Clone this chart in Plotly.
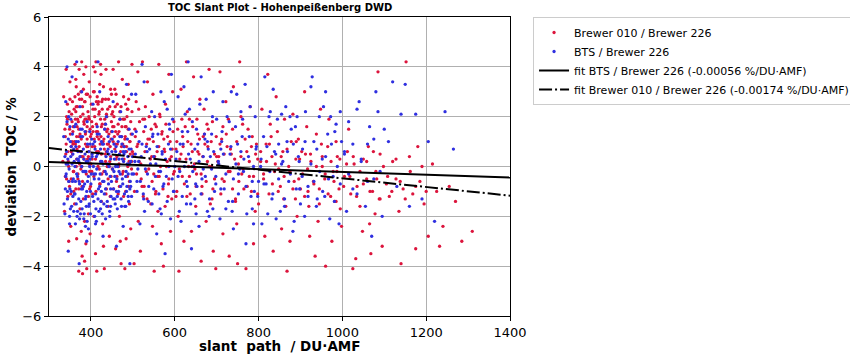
import plotly.graph_objects as go

# ---------------- data ----------------
# Brewer 010 / Brewer 226 : spread points (incl. outliers)
red_pts = [
    (335,2.8),(338,1.5),(340,0.5),(342,-0.5),(345,-1.2),(348,2.2),(350,3.4),(352,-2.4),(355,1.0),(358,-0.2),
    (333,0.2),(337,-1.8),(344,1.9),(347,-3.0),(353,0.8),(356,2.6),(359,-1.0),(341,3.9),(349,-0.8),(357,1.4),
    (362,4.1),(365,3.2),(368,2.4),(370,1.8),(372,1.2),(375,0.6),(378,0.0),(380,-0.6),(382,-1.3),(385,-2.2),
    (388,-3.1),(390,-4.1),(392,2.9),(395,2.0),(398,1.5),(363,0.9),(366,0.3),(369,-0.3),(371,-0.9),(374,-1.7),
    (377,-2.6),(379,-3.6),(383,3.7),(386,2.6),(389,1.9),(391,1.1),(394,0.4),(397,-0.2),(399,-0.8),(364,2.2),
    (367,1.6),(373,2.7),(376,3.0),(381,2.1),(384,1.7),(387,1.3),(393,0.8),(396,0.1),(361,-1.5),(366,-2.9),
    (371,-4.2),(380,-4.3),(385,-3.8),(394,-1.9),(398,-2.7),(364,3.5),(372,3.9),(378,4.2),(388,4.0),(396,3.4),
    (402,1.8),(405,2.3),(408,3.0),(410,3.8),(412,4.2),(415,1.2),(418,0.6),(420,-0.1),(422,-0.7),(425,-1.4),
    (428,-2.3),(430,-3.2),(432,-4.1),(435,2.7),(438,2.0),(440,1.5),(442,0.9),(445,0.2),(448,-0.4),(404,-1.1),
    (407,-2.0),(411,-3.5),(414,-4.2),(417,2.5),(421,3.3),(424,3.7),(427,1.7),(431,1.1),(434,0.5),(437,-0.9),
    (441,-1.6),(444,-2.8),(447,3.1),(403,0.3),(409,0.8),(413,1.4),(419,2.1),(426,2.6),(433,1.9),(439,0.0),
    (446,-1.2),(449,1.4),(406,4.0),(423,4.1),(436,3.9),
    (452,2.2),(455,1.6),(458,0.9),(460,0.3),(462,-0.4),(465,-1.1),(468,-2.0),(470,-3.0),(472,-3.9),(475,3.5),
    (478,2.8),(480,1.9),(482,1.2),(485,0.6),(488,0.0),(490,-0.8),(492,-1.5),(495,-2.5),(498,4.1),(453,3.9),
    (457,3.1),(463,2.5),(467,1.4),(473,0.8),(477,-0.2),(483,-1.0),(487,2.3),(493,1.0),(497,0.2),(459,-3.3),
    (481,-4.1),(489,3.3),(466,4.2),(484,-2.9),
    (505,1.5),(510,0.8),(515,0.2),(520,-0.5),(525,-1.2),(530,2.4),(535,3.4),(540,1.1),(545,0.4),(550,-0.3),
    (555,-1.0),(560,-1.8),(565,2.0),(570,1.4),(575,0.7),(580,0.0),(585,-0.7),(590,-2.6),(595,3.0),(508,2.6),
    (513,-2.2),(518,-3.4),(523,4.2),(528,1.9),(533,0.9),(538,-0.1),(543,-1.5),(548,2.9),(553,1.7),(558,0.6),
    (563,-0.4),(568,-3.1),(573,-4.0),(578,2.5),(583,1.2),(588,0.3),(593,-1.3),(598,1.8),(503,-3.9),(512,3.8),
    (527,-0.8),(547,-2.4),(562,4.1),(577,-1.6),(597,-0.3),(551,-4.2),(586,3.7),
    (605,1.0),(612,0.3),(618,-0.4),(625,1.6),(630,2.2),(637,-1.1),(642,0.6),(648,-0.1),(655,1.3),(660,2.7),
    (665,-0.8),(672,0.9),(678,0.2),(685,-1.5),(690,1.8),(695,-0.5),(608,-2.0),(615,3.1),(622,-3.0),(628,4.2),
    (635,1.9),(640,-2.6),(645,3.6),(652,-0.3),(658,0.5),(663,-3.8),(668,1.2),(675,-2.2),(682,3.9),(688,0.0),
    (698,-4.1),(603,-1.2),(620,0.8),(633,0.0),(650,-1.6),(670,2.3),(692,-3.4),(610,-4.2),(680,1.5),(700,0.4),
    (705,0.4),(712,1.1),(718,-0.6),(725,0.8),(732,-0.2),(738,1.5),(745,-1.3),(752,0.1),(758,2.0),(765,-0.9),
    (772,0.6),(778,-0.4),(785,1.2),(792,-1.8),(798,0.3),(708,3.8),(715,-2.7),(722,2.6),(730,-3.6),(740,3.2),
    (748,-2.3),(755,4.2),(762,1.7),(770,-4.1),(780,2.4),(788,-3.1),(795,0.9),(710,-1.1),(735,0.5),(760,-0.3),
    (783,-1.0),(728,1.9),(750,-3.9),
    (805,0.2),(812,-0.5),(818,0.9),(825,-1.1),(832,0.4),(838,-0.2),(845,1.4),(852,-0.8),(858,0.6),(865,-1.6),
    (872,0.0),(878,1.0),(885,-0.6),(892,-2.0),(898,0.3),(808,2.3),(815,-2.8),(822,3.7),(828,1.7),(835,-3.4),
    (842,2.8),(848,-0.1),(855,-2.5),(862,1.9),(868,-4.2),(875,-3.0),(882,2.1),(888,-1.3),(895,1.1),(900,-0.9),
    (905,-0.3),(912,0.5),(918,-1.0),(925,0.2),(932,-0.7),(938,1.3),(945,-1.5),(952,0.0),(958,-0.5),(965,0.8),
    (972,-1.2),(978,-0.2),(985,1.0),(992,-0.9),(998,-2.4),(910,3.0),(922,-2.8),(935,-3.6),(948,2.3),(960,-4.0),
    (975,-3.0),(988,0.4),(995,-1.7),(915,1.6),(942,-2.2),(968,1.9),(982,-1.4),
    (1005,-0.4),(1012,0.6),(1020,-1.1),(1028,0.1),(1035,-0.8),(1042,-1.6),(1050,0.3),(1058,-0.5),(1065,-2.3),
    (1072,-1.0),(1080,-0.2),(1088,-1.3),(1095,-3.2),(1015,1.5),(1032,-3.7),(1048,-2.6),(1062,0.8),(1078,-1.9),
    (1090,0.5),(1025,-4.1),(1068,-3.5),(1085,3.8),
    (1105,-0.7),(1112,-1.2),(1120,0.2),(1128,-0.5),(1135,-1.8),(1145,-0.9),(1152,4.2),(1160,0.4),(1168,-1.1),
    (1175,-3.3),(1185,-0.6),(1195,-1.5),(1205,-2.8),(1215,0.1),(1225,-1.0),(1240,-2.4),(1255,-0.8),(1270,-1.4),
    (1285,-3.0),(1310,-2.6),(1140,-3.9),(1180,0.8),(1232,-3.2),
]
# Brewer 010 / Brewer 226 : dense core
red_core = [
    (341,0.9),(343,1.7),(346,0.2),(348,-0.6),(351,1.3),(354,2.1),(356,0.5),(359,-0.2),(361,1.0),(363,1.9),
    (365,2.4),(367,0.7),(369,-0.5),(371,1.5),(373,0.1),(375,2.0),(377,1.1),(379,-0.8),(381,0.4),(383,1.8),
    (385,2.6),(387,0.9),(389,-0.3),(391,1.6),(393,2.2),(395,0.6),(397,-0.9),(399,1.2),(401,2.5),(403,0.8),
    (405,1.4),(407,-0.4),(409,2.0),(411,0.3),(413,1.7),(415,2.8),(417,0.0),(419,1.1),(421,-0.7),(423,1.9),
    (425,0.5),(427,2.3),(429,1.0),(431,-0.2),(433,1.5),(435,0.2),(437,2.1),(439,0.9),(441,-0.5),(443,1.3),
    (445,2.4),(447,0.4),(449,1.8),(451,-0.1),(453,1.0),(455,2.0),(457,0.7),(459,1.4),(461,-0.6),(463,0.9),
    (465,1.7),(467,0.1),(469,2.2),(471,0.6),(473,1.2),(475,-0.3),(477,1.9),(479,0.3),(481,1.1),(483,2.5),
    (485,0.8),(487,-0.4),(489,1.5),(491,0.2),(493,1.0),(495,1.8),(497,-0.1),(499,0.6),
    (344,2.5),(352,-1.1),(358,1.6),(364,-0.9),(370,2.9),(376,-0.1),(382,3.1),(388,1.4),(394,-1.2),(400,0.1),
    (406,3.0),(412,-1.0),(418,2.6),(424,1.2),(430,3.2),(436,-1.1),(442,2.7),(448,1.1),(454,-0.9),(460,2.9),
    (466,0.0),(472,2.4),(478,-1.2),(484,1.6),(490,2.7),(496,1.3),
    (347,0.0),(353,0.6),(360,2.3),(366,1.2),(372,0.8),(378,2.7),(384,0.3),(390,0.8),(396,1.9),(402,-0.2),
    (408,1.1),(414,0.6),(420,2.2),(426,-0.3),(432,0.7),(438,1.4),(444,0.0),(450,2.1),(456,1.2),(462,0.4),
    (468,-0.8),(474,1.6),(480,0.8),(486,2.0),(492,-0.6),(498,2.2),
    (502,0.5),(506,1.2),(509,-0.3),(512,0.9),(516,1.8),(519,0.1),(522,-0.8),(526,1.4),(529,0.6),(532,-0.2),
    (536,1.1),(539,2.0),(542,0.3),(546,-0.6),(549,1.0),(552,0.4),(556,1.6),(559,-0.4),(562,0.8),(566,0.0),
    (569,1.3),(572,-0.9),(576,0.6),(579,1.7),(582,0.2),(586,-0.5),(589,1.0),(592,0.4),(596,1.4),(599,-0.2),
    (603,0.7),(607,1.5),(611,-0.1),(615,0.5),(619,1.2),(623,-0.7),(627,0.3),(631,1.0),(635,-0.4),(639,0.9),
    (643,1.6),(647,0.1),(651,-0.8),(655,0.6),(659,1.1),(663,-0.3),(667,0.4),(671,1.3),(675,-0.6),(679,0.8),
    (683,0.0),(687,1.0),(691,-0.9),(695,0.5),(699,1.2),
    (504,-1.0),(514,2.3),(524,1.9),(534,-1.3),(544,1.5),(554,-1.1),(564,2.1),(574,1.1),(584,-1.2),(594,0.7),
    (605,-1.0),(617,1.9),(629,-1.2),(641,0.0),(653,1.9),(665,-1.1),(677,1.7),(689,-1.3),
    (703,0.2),(708,0.9),(713,-0.5),(718,0.5),(723,1.3),(728,-0.2),(733,0.7),(738,-0.9),(743,0.3),(748,1.0),
    (753,-0.6),(758,0.4),(763,-0.1),(768,1.1),(773,-0.8),(778,0.2),(783,0.8),(788,-0.4),(793,0.5),(798,-1.1),
    (805,0.6),(812,-0.3),(819,0.2),(826,0.9),(833,-0.7),(840,0.1),(847,-1.0),(854,0.4),(861,-0.4),(868,0.7),
    (875,-0.2),(882,-0.9),(889,0.3),(896,-0.5),(903,0.6),(910,-1.2),(917,-0.1),(924,0.5),(931,-0.6),(938,0.0),
    (945,-0.9),(952,0.4),(959,-0.3),(966,-1.1),(973,0.2),(980,-0.6),(987,-0.2),(994,0.3),
    (715,1.6),(745,-1.4),(775,1.5),(800,-1.5),(830,1.2),(860,-1.3),(890,1.0),(920,-1.6),(950,0.9),(985,-1.4),
    (1003,-0.8),(1010,0.1),(1018,-0.4),(1026,0.4),(1034,-1.2),(1042,-0.2),(1050,-0.7),(1058,0.2),(1066,-1.0),
    (1074,0.6),(1082,-0.5),(1090,-1.3),(1098,0.0),(1108,-0.4),(1118,-1.0),(1128,0.3),(1138,-0.6),(1150,-1.3),
    (1162,-0.2),(1175,-0.8),(1190,0.0),(1200,-1.0),
    # extra density near the left edge
    (339,1.2),(342,2.0),(345,0.6),(349,1.5),(350,2.7),(355,1.8),(357,0.9),(362,2.8),(368,1.9),(374,1.3),
    (380,2.4),(386,1.9),(392,0.3),(398,2.8),(404,1.6),(410,2.3),(416,1.4),(422,0.9),(428,2.7),(434,1.7),
    (440,2.3),(446,0.8),(452,1.6),(458,2.4),(464,1.3),(470,1.9),(476,0.9),(482,1.6),(488,2.3),(494,0.5),
    (339,-0.4),(353,-0.5),(365,0.0),(377,0.4),(389,2.9),(401,1.3),(413,2.6),(425,1.6),(437,0.6),(449,2.9),
]

# BTS / Brewer 226 : spread points (incl. outliers)
blue_pts = [
    (335,1.2),(338,0.4),(341,-0.3),(344,-1.0),(347,2.0),(350,1.6),(353,0.8),(356,-0.6),(359,-1.8),(362,0.0),
    (365,1.0),(368,-0.4),(371,-1.3),(374,2.4),(377,0.6),(380,-0.9),(383,-2.1),(386,1.4),(389,0.2),(392,-0.6),
    (395,-1.6),(398,0.9),(336,-1.5),(340,2.6),(345,0.1),(349,-2.3),(352,1.9),(357,0.5),(361,-1.1),(364,1.7),
    (367,-2.0),(370,0.3),(373,-0.7),(376,1.2),(379,-1.7),(382,0.7),(385,-0.2),(388,-1.2),(391,1.8),(394,-2.5),
    (397,0.0),(343,4.0),(355,3.6),(366,4.2),(378,3.0),(390,-3.0),(346,-3.4),(372,-3.9),
    (403,0.5),(407,-0.3),(411,-1.1),(415,1.3),(419,-1.8),(423,0.2),(427,0.9),(431,-0.6),(435,1.7),(439,-1.4),
    (443,0.0),(447,-0.9),(451,1.1),(455,-0.2),(459,0.6),(463,-1.2),(467,0.3),(471,2.2),(475,-0.5),(479,0.8),
    (483,-1.6),(487,0.1),(491,1.5),(495,-0.8),(499,0.4),(405,2.5),(413,-2.2),(421,3.0),(429,-2.8),(437,2.0),
    (445,-2.0),(453,2.6),(461,-3.2),(469,1.9),(477,-2.4),(485,3.3),(493,-3.9),(409,1.0),(425,-1.0),(441,0.7),
    (457,-1.3),(473,1.2),(489,-0.3),(497,2.9),(417,4.2),
    (505,0.2),(510,-0.6),(515,1.0),(520,0.4),(525,-1.1),(530,1.6),(535,-0.3),(540,0.7),(545,2.2),(550,-0.9),
    (555,0.1),(560,1.3),(565,-1.7),(570,0.5),(575,2.6),(580,-0.4),(585,0.9),(590,-2.1),(595,1.9),(600,0.0),
    (507,2.9),(517,-2.3),(527,3.4),(537,-1.4),(547,1.2),(557,-2.7),(567,3.0),(577,-3.5),(587,1.7),(597,-1.0),
    (512,-0.1),(532,0.8),(552,2.0),(572,-0.8),(592,3.7),(522,4.1),(562,-0.2),(582,2.3),
    (605,0.6),(612,-0.2),(618,1.4),(625,2.1),(630,-0.8),(637,0.3),(642,1.8),(648,-1.3),(655,0.9),(660,2.5),
    (665,-0.5),(672,1.1),(678,-1.8),(685,0.4),(690,2.0),(695,-1.0),(608,2.8),(615,-2.2),(622,3.2),(628,-1.5),
    (635,2.3),(640,-3.3),(645,0.0),(652,1.5),(658,-2.4),(663,3.6),(668,-0.1),(675,2.7),(682,-2.0),(688,1.3),
    (698,-0.4),(620,0.9),(650,-0.7),(680,0.7),(700,1.9),(632,4.2),(692,3.0),
    (705,0.1),(712,1.0),(718,-0.9),(725,2.0),(732,0.5),(738,-1.4),(745,1.6),(752,-0.3),(758,2.2),(765,0.3),
    (772,-1.9),(778,1.2),(785,-0.6),(792,2.0),(798,-1.2),(708,-2.1),(715,2.6),(722,-1.7),(730,1.8),(740,-2.5),
    (748,2.9),(755,-0.1),(762,1.9),(770,-3.1),(780,2.4),(788,-2.3),(795,0.8),(735,3.0),(768,3.3),(790,-1.0),
    (710,0.7),(750,0.9),
    (805,0.0),(812,1.2),(818,-0.7),(825,2.0),(832,-1.3),(838,0.6),(845,1.9),(852,-1.8),(858,0.2),(865,2.4),
    (872,-0.6),(878,1.5),(885,-2.2),(892,2.0),(898,-0.9),(808,-2.3),(815,3.6),(822,-1.9),(828,2.2),(835,3.1),
    (842,-2.1),(848,0.9),(855,2.1),(862,-1.6),(868,1.0),(875,2.0),(882,-2.6),(888,1.6),(895,0.4),(900,-1.5),
    (905,0.7),(912,2.2),(918,-0.8),(925,3.2),(932,1.0),(938,-1.6),(945,2.0),(952,0.3),(958,-1.2),(965,1.3),
    (972,2.0),(978,-0.4),(985,1.7),(992,-2.3),(998,1.0),(910,-2.0),(928,3.6),(940,-1.3),(955,2.4),(970,-2.1),
    (982,1.4),(995,2.2),(960,3.0),
    (1005,0.5),(1015,1.8),(1025,-0.9),(1035,2.3),(1045,0.2),(1055,-1.6),(1065,1.6),(1075,-0.5),(1085,2.2),
    (1095,-2.0),(1110,1.0),(1120,3.4),(1130,-0.8),(1140,2.1),(1150,3.3),(1160,-1.6),(1175,2.1),(1190,-1.3),
    (1205,1.0),(1220,-2.2),(1245,2.2),(1265,0.7),(1010,-1.8),(1040,2.6),(1070,-2.8),(1100,1.5),(1080,3.0),
    (1060,0.9),
]
# BTS / Brewer 226 : dense core
blue_core = [
    (340,-0.4),(342,0.6),(344,-1.3),(346,1.1),(348,-0.1),(350,-0.9),(352,0.4),(354,-1.6),(356,1.3),(358,-0.5),
    (360,0.2),(362,-1.1),(364,0.8),(366,-0.3),(368,-1.8),(370,1.0),(372,-0.6),(374,0.4),(376,-1.4),(378,0.0),
    (380,1.2),(382,-0.8),(384,-1.9),(386,0.5),(388,-0.2),(390,-1.0),(392,0.9),(394,-0.4),(396,-1.5),(398,0.3),
    (400,-0.7),(402,1.1),(404,-1.2),(406,0.0),(408,-0.5),(410,0.7),(412,-1.7),(414,-0.1),(416,0.5),(418,-0.9),
    (420,1.3),(422,-0.3),(424,-1.4),(426,0.2),(428,-0.6),(430,0.9),(432,-1.1),(434,-0.2),(436,0.4),(438,-1.6),
    (440,0.1),(442,-0.7),(444,1.0),(446,-0.4),(448,-1.2),(450,0.6),(452,-0.1),(454,-0.9),(456,0.3),(458,-1.5),
    (460,0.8),(462,-0.5),(464,0.0),(466,-1.0),(468,0.5),(470,-0.3),(472,-1.3),(474,0.9),(476,-0.7),(478,0.2),
    (480,-1.1),(482,0.6),(484,-0.2),(486,-0.8),(488,0.4),(490,-1.4),(492,0.1),(494,-0.6),(496,0.7),(498,-0.3),
    (343,1.8),(349,-2.0),(355,0.1),(361,1.6),(367,0.3),(373,-2.1),(379,1.5),(385,-0.7),(391,-2.2),(397,1.4),
    (403,0.4),(409,-2.0),(415,1.6),(421,-0.8),(427,-1.9),(433,1.5),(439,0.6),(445,-1.8),(451,1.4),(457,-0.4),
    (463,-1.7),(469,1.2),(475,0.3),(481,-1.6),(487,1.1),(493,-0.9),(499,1.3),
    (345,0.3),(351,1.0),(357,-1.2),(363,-0.6),(369,0.6),(375,1.5),(381,-0.2),(387,-1.3),(393,0.2),(399,-1.0),
    (405,0.9),(411,-0.3),(417,-1.3),(423,0.7),(429,0.1),(435,-0.9),(441,1.2),(447,0.3),(453,-1.3),(459,0.0),
    (465,1.0),(471,-0.8),(477,0.6),(483,-0.4),(489,-1.2),(495,0.2),
    (502,-0.3),(506,0.5),(510,-1.0),(514,0.2),(518,-0.6),(522,0.9),(526,-1.3),(530,-0.1),(534,0.6),(538,-0.8),
    (542,0.1),(546,-1.5),(550,0.4),(554,-0.4),(558,0.8),(562,-1.1),(566,-0.2),(570,0.6),(574,-0.7),(578,0.3),
    (582,-1.4),(586,0.0),(590,0.7),(594,-0.5),(598,-1.0),(603,0.3),(608,-0.4),(613,0.9),(618,-1.2),(623,0.0),
    (628,-0.6),(633,0.5),(638,-1.5),(643,-0.2),(648,0.7),(653,-0.8),(658,0.2),(663,-1.1),(668,0.4),(673,-0.4),
    (678,1.0),(683,-1.3),(688,-0.1),(693,0.6),(698,-0.7),(704,0.2),(710,-0.9),(716,0.5),(722,-0.3),(728,-1.4),
    (734,0.8),(740,-0.5),(746,0.1),(752,-1.1),(758,0.6),(764,-0.2),(770,-0.8),(776,0.4),(782,-1.2),(788,0.0),
    (794,0.7),(800,-0.6),
    (508,1.4),(528,-1.8),(548,1.3),(568,-1.9),(588,1.5),(611,-1.8),(631,1.4),(651,-1.9),(671,1.3),(691,-1.7),
    (713,1.4),(737,-1.8),(761,1.2),(785,-1.7),
    (806,0.3),(813,-0.7),(820,0.8),(827,-0.2),(834,-1.1),(841,0.5),(848,-0.5),(855,0.1),(862,-1.3),(869,0.6),
    (876,-0.3),(883,0.9),(890,-0.9),(897,0.2),(904,-0.4),(911,1.0),(918,-1.2),(925,0.1),(932,-0.6),(939,0.7),
    (946,-0.2),(953,-1.0),(960,0.4),(967,-0.5),(974,0.9),(981,-1.4),(988,0.0),(995,-0.7),(1005,0.6),(1015,-0.3),
    (1025,0.9),(1035,-1.1),(1045,0.3),(1060,-0.6),(1075,1.1),(1090,-0.2),
    # extra density near the left edge
    (339,-0.9),(341,0.1),(347,-0.6),(353,-1.0),(359,0.7),(365,-1.5),(371,0.2),(377,-0.9),(383,0.3),(389,-1.6),
    (395,0.6),(401,-0.3),(407,-1.4),(413,0.4),(419,-0.5),(425,1.0),(431,-1.5),(437,-0.3),(443,0.5),(449,-0.6),
    (455,0.9),(461,-1.0),(467,-0.2),(473,-1.6),(479,0.5),(485,-1.0),(491,0.7),(497,-1.2),
    (338,-1.9),(351,-1.7),(363,-2.3),(375,-1.9),(387,-2.4),(399,-1.9),(411,-2.3),(423,-1.7),(435,-2.1),(447,-1.6),
]

red_x = [p[0] for p in red_pts + red_core]
red_y = [p[1] for p in red_pts + red_core]
blue_x = [p[0] for p in blue_pts + blue_core]
blue_y = [p[1] for p in blue_pts + blue_core]

fit_x = [300, 1400]
fit_bts_y = [0.18, -0.44]
fit_b010_y = [0.74, -1.17]

x_ticks = [400, 600, 800, 1000, 1200, 1400]
y_ticks = [-6, -4, -2, 0, 2, 4, 6]

name_red = "Brewer 010 / Brewer 226"
name_blue = "BTS / Brewer 226"
name_fit_bts = "fit BTS / Brewer 226 (-0.00056 %/DU·AMF)"
name_fit_b010 = "fit Brewer 010 / Brewer 226 (-0.00174 %/DU·AMF)"

# ---------------- figure ----------------
FONT = "DejaVu Sans"
fig = go.Figure()
fig.add_trace(go.Scatter(x=red_x, y=red_y, mode="markers", name=name_red,
                         marker=dict(color="#dc143c", size=3.3, line=dict(width=0))))
fig.add_trace(go.Scatter(x=blue_x, y=blue_y, mode="markers", name=name_blue,
                         marker=dict(color="#2f2fe0", size=3.3, line=dict(width=0))))
fig.add_trace(go.Scatter(x=fit_x, y=fit_bts_y, mode="lines", name=name_fit_bts,
                         line=dict(color="black", width=2)))
fig.add_trace(go.Scatter(x=fit_x, y=fit_b010_y, mode="lines", name=name_fit_b010,
                         line=dict(color="black", width=2, dash="13px,3px,2px,3px")))

axis_common = dict(showline=True, linecolor="black", linewidth=1.2, mirror=True,
                   ticks="outside", ticklen=4, tickwidth=1, tickcolor="black",
                   showgrid=True, gridcolor="#b0b0b0", gridwidth=1, zeroline=False,
                   tickfont=dict(family=FONT, size=13, color="black"))

fig.update_layout(
    width=850, height=359,
    margin=dict(l=49, r=340, t=16.5, b=42.5, autoexpand=False),
    paper_bgcolor="white", plot_bgcolor="white",
    font=dict(family=FONT, color="black"),
    xaxis=dict(range=[300, 1400], tickvals=x_ticks, **axis_common),
    yaxis=dict(range=[-6, 6], tickvals=y_ticks, **axis_common),
    showlegend=True,
    legend=dict(x=1.05, y=1.0, xanchor="left", yanchor="top",
                bgcolor="white", bordercolor="#cccccc", borderwidth=1,
                font=dict(family=FONT, size=11, color="black"),
                tracegroupgap=0, itemwidth=30),
    annotations=[
        dict(text="<b>TOC Slant Plot - Hohenpeißenberg DWD</b>", xref="paper", yref="paper",
             x=0.5, y=1.0, yshift=10, xanchor="center", yanchor="middle", showarrow=False,
             font=dict(family=FONT, size=10, color="black")),
        dict(text="<b>slant\u00a0\u00a0path\u00a0\u00a0/ DU·AMF</b>", xref="paper", yref="paper",
             x=0.5, y=0, yshift=-30, xanchor="center", yanchor="middle", showarrow=False,
             font=dict(family=FONT, size=13.5, color="black")),
        dict(text="<b>deviation\u00a0\u00a0TOC / %</b>", xref="paper", yref="paper",
             x=0, y=0.5, xshift=-39, xanchor="center", yanchor="middle", showarrow=False,
             textangle=-90, font=dict(family=FONT, size=13.5, color="black")),
    ],
)

fig.write_html("out.html", config={"displayModeBar": False},
               post_script="document.body.style.margin='0';")
